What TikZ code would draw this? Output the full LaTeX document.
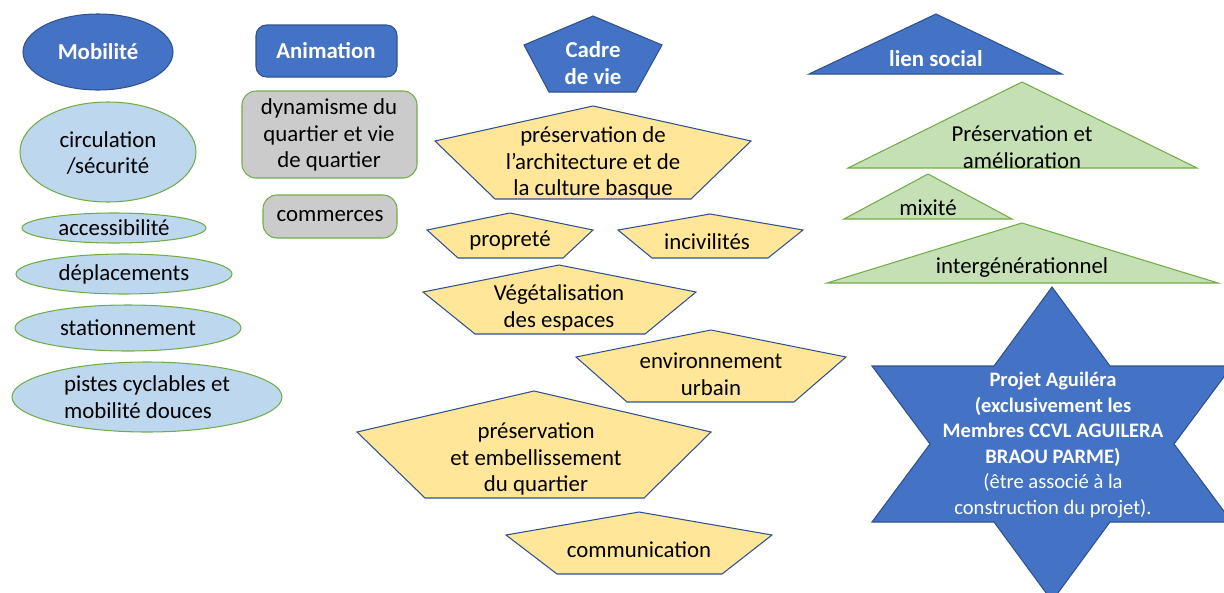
\documentclass[tikz,border=0pt]{standalone}
\usepackage{fontspec}
\setmainfont{Carlito}
\usepackage{tikz}
\usetikzlibrary{positioning}

\definecolor{darkblue}{HTML}{4472C4}
\definecolor{blueline}{HTML}{2F528F}
\definecolor{lightblue}{HTML}{BDD7EE}
\definecolor{leafgreen}{HTML}{70AD47}
\definecolor{palegreen}{HTML}{C5E0B4}
\definecolor{sandyellow}{HTML}{FFE699}
\definecolor{softgray}{HTML}{CBCBCB}

\tikzset{
    txt/.style={align=center, font=\fontsize{13}{15.3}\selectfont, inner sep=0pt},
    head/.style={txt, text=white, font=\fontsize{13}{15.3}\selectfont\bfseries},
    bluehead/.style={fill=darkblue, draw=blueline, line width=0.6pt},
    blueitem/.style={fill=lightblue, draw=leafgreen, line width=0.6pt},
    grayitem/.style={fill=softgray, draw=leafgreen, line width=0.6pt, rounded corners=8pt},
    yellowitem/.style={fill=sandyellow, draw=blueline, line width=0.6pt},
    greenitem/.style={fill=palegreen, draw=leafgreen, line width=0.6pt}
}

\begin{document}
\begin{tikzpicture}[x=0.02cm, y=-0.02cm]
    \useasboundingbox (0,0) rectangle (1224,592);

    % Mobilite
    \draw[bluehead] (98,52) ellipse (75 and 38);
    \node[head] (mobilite) at (98,52) {Mobilité};
    \draw[blueitem] (108,152) ellipse (88 and 50);
    \node[txt] (circulation) at (108,153) {circulation\\/sécurité};
    \draw[blueitem] (114,228) ellipse (92 and 15);
    \node[txt] (accessibilite) at (114,228) {accessibilité};
    \draw[blueitem] (124,274) ellipse (108 and 20);
    \node[txt] (deplacements) at (124,274) {déplacements};
    \draw[blueitem] (128,328) ellipse (113 and 23);
    \node[txt] (stationnement) at (128,328) {stationnement};
    \draw[blueitem] (147,397) ellipse (135 and 35);
    \node[txt, align=left] (pistes) at (147,397) {pistes cyclables et\\mobilité douces};

    % Animation
    \draw[bluehead, rounded corners=6pt] (256,25) rectangle (397,77);
    \node[head] (animation) at (326,51) {Animation};
    \draw[grayitem] (242,91) rectangle (417,178);
    \node[txt] (dynamisme) at (329,135) {dynamisme du\\quartier et vie\\de quartier};
    \draw[grayitem] (263,195) rectangle (397,238);
    \node[txt] (commerces) at (330,216) {commerces};

    % Cadre de vie
    \draw[bluehead] (593,16) -- (662,45) -- (636,92) -- (549,92) -- (524,45) -- cycle;
    \node[head] (cadre) at (593,63) {Cadre\\de vie};
    \draw[yellowitem] (593,106) -- (751,141) -- (691,199) -- (495,199) -- (435,141) -- cycle;
    \node[txt] (architecture) at (593,163) {préservation de\\l’architecture et de\\la culture basque};
    \draw[yellowitem] (510,213) -- (593,230) -- (563,258) -- (458,258) -- (427,230) -- cycle;
    \node[txt] (proprete) at (510,241) {propreté};
    \draw[yellowitem] (710,214) -- (803,230) -- (768,258) -- (652,258) -- (618,230) -- cycle;
    \node[txt] (incivilites) at (707,242) {incivilités};
    \draw[yellowitem] (559,265) -- (696,292) -- (645,334) -- (475,334) -- (423,292) -- cycle;
    \node[txt] (vegetalisation) at (559,308) {Végétalisation\\des espaces};
    \draw[yellowitem] (711,330) -- (846,357) -- (794,402) -- (627,402) -- (576,357) -- cycle;
    \node[txt] (environnement) at (711,374) {environnement\\urbain};
    \draw[yellowitem] (534,391) -- (711,432) -- (644,498) -- (425,498) -- (357,432) -- cycle;
    \node[txt] (embellissement) at (536,459) {préservation\\et embellissement\\du quartier};
    \draw[yellowitem] (639,512) -- (772,535) -- (722,574) -- (557,574) -- (506,535) -- cycle;
    \node[txt] (communication) at (639,550) {communication};

    % lien social
    \draw[bluehead] (936,14) -- (1062,74) -- (809,74) -- cycle;
    \node[head] (lien) at (936,59) {lien social};
    \draw[greenitem] (1022,82) -- (1197,168) -- (848,168) -- cycle;
    \node[txt] (amelioration) at (1022,147) {Préservation et\\amélioration};
    \draw[greenitem] (928,174) -- (1012,219) -- (844,219) -- cycle;
    \node[txt] (mixite) at (928,208) {mixité};
    \draw[greenitem] (1022,223) -- (1218,283) -- (827,283) -- cycle;
    \node[txt] (intergen) at (1022,268) {intergénérationnel};

    % Projet Aguilera
    \begin{scope}
        \clip (0,0) rectangle (1224,592);
        \draw[bluehead] (1052,287) -- (1110,366) -- (1232,366) -- (1174,444) -- (1232,522)
            -- (1110,522) -- (1052,601) -- (994,522) -- (872,522) -- (930,444)
            -- (872,366) -- (994,366) -- cycle;
    \end{scope}
    \node[txt, text=white, font=\fontsize{11.7}{14.5}\selectfont] (aguilera) at (1053,445)
        {\textbf{Projet Aguiléra}\\\textbf{(exclusivement les}\\\textbf{Membres CCVL AGUILERA}\\\textbf{BRAOU PARME)}\\(être associé à la\\construction du projet).};
\end{tikzpicture}
\end{document}
